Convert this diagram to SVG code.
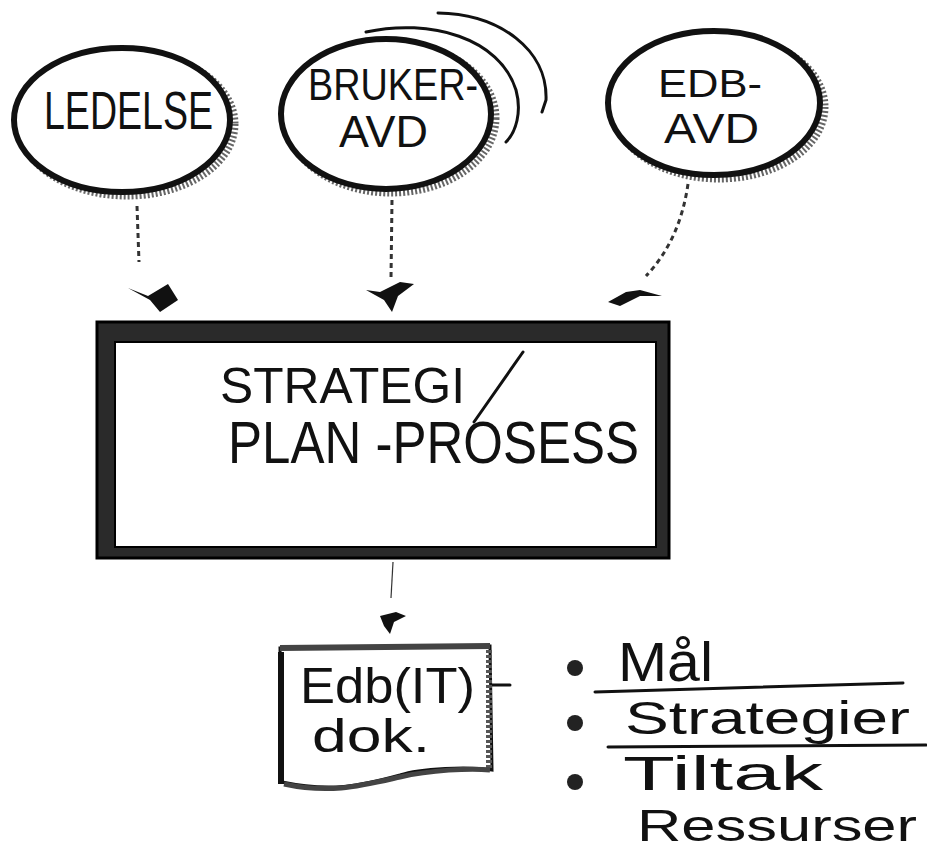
<svg xmlns="http://www.w3.org/2000/svg" width="927" height="852" viewBox="0 0 927 852">
<style>
.ring{fill:#fff;stroke:#111;stroke-width:6}
.shade{fill:none;stroke:#666;stroke-width:7;stroke-dasharray:2 2}
.hand{font-family:"Liberation Sans","DejaVu Sans",sans-serif;fill:#111;font-weight:normal}
.conn{fill:none;stroke:#333;stroke-width:3;stroke-dasharray:5 4}
.thin{fill:none;stroke:#333;stroke-width:1.2}
.ink{fill:none;stroke:#111;stroke-width:3;stroke-linecap:round}
.head{fill:#111}
</style>
<rect width="927" height="852" fill="#fff"/>

<g id="conns">
  <path class="conn" d="M137 206 L139 262"/>
  <path class="head" d="M128 288 L148 296 L168 284 L178 300 L160 312 L150 300 Z"/>
  <path class="conn" d="M392 200 L391 278"/>
  <path class="head" d="M366 290 L380 292 L400 282 L414 284 L398 296 L392 312 L384 300 Z"/>
  <path class="conn" d="M688 184 Q680 240 646 276"/>
  <path class="head" d="M608 302 L626 292 L640 290 L662 296 L640 296 L620 306 Z"/>
  <path class="thin" d="M393 562 L391 598"/>
  <path class="head" d="M380 616 L396 612 L406 616 L394 622 L390 634 L384 626 Z"/>
  <path class="ink" d="M476 685 L510 685"/>
  <path class="head" d="M476 685 L492 679 L492 691 Z"/>
</g>

<g id="ledelse">
  <ellipse class="shade" cx="127" cy="124" rx="108" ry="72"/>
  <ellipse class="ring" cx="122" cy="120" rx="108" ry="72"/>
  <text class="hand" x="44" y="129" font-size="53" textLength="169" lengthAdjust="spacingAndGlyphs">LEDELSE</text>
</g>

<g id="brukeravd">
  <path class="ink" d="M366 32 C430 18 500 38 516 90 C522 112 516 132 506 142" stroke-width="4"/>
  <path class="ink" d="M438 13 C500 14 548 50 546 100 L542 112" stroke-width="4"/>
  <ellipse class="shade" cx="391" cy="118" rx="105" ry="75"/>
  <ellipse class="ring" cx="386" cy="114" rx="105" ry="75"/>
  <text class="hand" x="308" y="100" font-size="45" textLength="170" lengthAdjust="spacingAndGlyphs">BRUKER-</text>
  <text class="hand" x="339" y="147" font-size="44" textLength="89" lengthAdjust="spacingAndGlyphs">AVD</text>
</g>

<g id="edbavd">
  <ellipse class="shade" cx="719" cy="107" rx="106" ry="72"/>
  <ellipse class="ring" cx="714" cy="103" rx="106" ry="72"/>
  <text class="hand" x="658" y="97" font-size="38" textLength="104" lengthAdjust="spacingAndGlyphs">EDB-</text>
  <text class="hand" x="664" y="143" font-size="42" textLength="95" lengthAdjust="spacingAndGlyphs">AVD</text>
</g>

<g id="strategi">
  <rect x="97" y="322" width="572" height="236" fill="#2a2a2a" stroke="#000" stroke-width="3"/>
  <rect x="115" y="342" width="541" height="205" fill="#fff" stroke="#000" stroke-width="2"/>
  <text class="hand" x="220" y="403" font-size="50" textLength="245" lengthAdjust="spacingAndGlyphs">STRATEGI</text>
  <path class="ink" d="M523 352 L474 422" stroke-width="3"/>
  <text class="hand" x="228" y="463" font-size="60" textLength="411" lengthAdjust="spacingAndGlyphs">PLAN -PROSESS</text>
</g>

<g id="dok">
  <path d="M280 648 L490 646 L492 770 C470 766 420 768 400 775 C360 786 330 792 282 782 Z" fill="#fff" stroke="#111" stroke-width="3"/>
  <path d="M280 648 L490 646" stroke="#444" stroke-width="6" fill="none"/>
  <path d="M281 652 L281 784" stroke="#111" stroke-width="6" fill="none"/>
  <path d="M489 650 L489 770" stroke="#555" stroke-width="6" fill="none" stroke-dasharray="3 2"/>
  <path d="M284 784 C330 794 360 786 400 777 C430 770 470 768 490 770" stroke="#444" stroke-width="5" fill="none"/>
  <text class="hand" x="300" y="703" font-size="50" textLength="175" lengthAdjust="spacingAndGlyphs">Edb(IT)</text>
  <text class="hand" x="312" y="752" font-size="46" textLength="118" lengthAdjust="spacingAndGlyphs">dok.</text>
</g>

<g id="list">
  <circle cx="575" cy="668" r="8" fill="#222"/>
  <circle cx="575" cy="723" r="8" fill="#222"/>
  <circle cx="575" cy="782" r="8" fill="#222"/>
  <text class="hand" x="618" y="681" font-size="56" textLength="95" lengthAdjust="spacingAndGlyphs">Mål</text>
  <path class="ink" d="M595 692 L903 683" stroke-width="2.5"/>
  <text class="hand" x="625" y="734" font-size="46" textLength="285" lengthAdjust="spacingAndGlyphs">Strategier</text>
  <path class="ink" d="M608 747 L926 745" stroke-width="2.5"/>
  <text class="hand" x="623" y="790" font-size="48" textLength="200" lengthAdjust="spacingAndGlyphs">Tiltak</text>
  <text class="hand" x="637" y="841" font-size="44" textLength="280" lengthAdjust="spacingAndGlyphs">Ressurser</text>
</g>
</svg>
